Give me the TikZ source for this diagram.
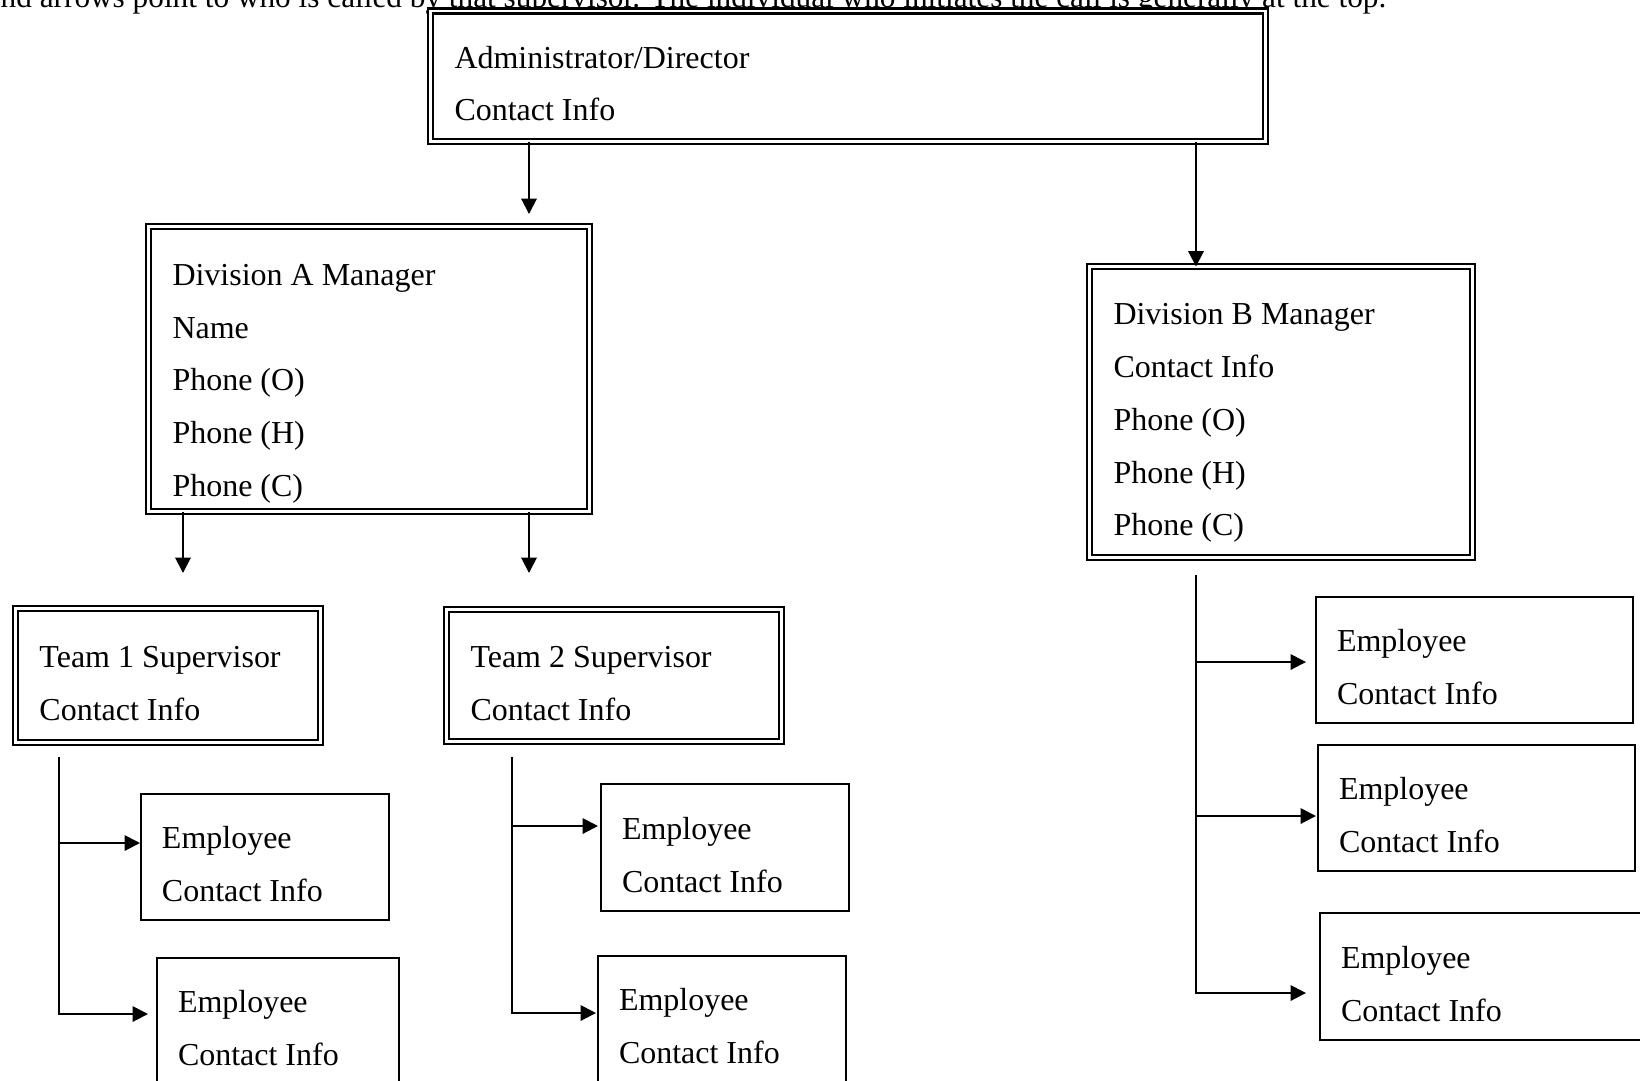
\documentclass[tikz,border=0pt]{standalone}
\usepackage{fontspec}
\setmainfont{Liberation Serif}
\usetikzlibrary{positioning,arrows.meta}
\newcommand{\boxstrut}{\rule[-2.3pt]{0pt}{15.02pt}}

\begin{document}
\begin{tikzpicture}[x=0.1mm,y=-0.1mm]
          \tikzstyle{every node}=[font=\fontsize{9.1}{15.02}\selectfont]
          \tikzstyle{card}=[draw, line width=0.57pt, anchor=north west, align=flush left,
                 outer sep=0pt, inner ysep=0pt,
                 execute at begin node=\boxstrut, execute at end node=\boxstrut]
          \tikzstyle{dcard}=[card, line width=0.75pt, double, double distance=0.75pt, inner xsep=2.4mm]
          \tikzstyle{ecard}=[card, inner xsep=2.1mm]
          \tikzstyle{arr}=[line width=0.57pt, -{Triangle[length=4.4pt,width=4.4pt]}]

      \useasboundingbox (0,0) rectangle (1640,1080);
      \clip (0,0) rectangle (1640,1080);

      \node[anchor=base west, inner sep=0pt, font=\fontsize{8.9}{15}\selectfont] (note) at (0,7)
         {nd arrows point to who is called by that supervisor. The individual who initiates the call is generally at the top.};

      \node[dcard, text width=78.7mm, minimum height=13.05mm] (admin) at (430.5,11)
         {Administrator/Director\\Contact Info};
      \node[dcard, text width=39.3mm, minimum height=28.5mm,
            execute at begin node=\rule{0pt}{14.7pt}] (divA) at (148.5,226.5)
         {Division A Manager\\Name\\Phone (O)\\Phone (H)\\Phone (C)};
      \node[dcard, text width=33.5mm, minimum height=29.1mm] (divB) at (1089.5,266.5)
         {Division B Manager\\Contact Info\\Phone (O)\\Phone (H)\\Phone (C)};
      \node[dcard, text width=25.7mm, minimum height=13.4mm] (team1) at (15.5,608.5)
         {Team 1 Supervisor\\Contact Info};
      \node[dcard, text width=28.7mm, minimum height=13.2mm] (team2) at (446.5,609.5)
         {Team 2 Supervisor\\Contact Info};

      \node[ecard, text width=20.6mm, minimum height=12.6mm] (emp1) at (141,794) {Employee\\Contact Info};
      \node[ecard, text width=20.0mm, minimum height=12.6mm] (emp2) at (157,958) {Employee\\Contact Info};
      \node[ecard, text width=20.6mm, minimum height=12.7mm] (emp3) at (601,784) {Employee\\Contact Info};
      \node[ecard, text width=20.6mm, minimum height=12.6mm] (emp4) at (598,956) {Employee\\Contact Info};
      \node[ecard, text width=27.5mm, minimum height=12.6mm] (emp5) at (1316,597) {Employee\\Contact Info};
      \node[ecard, text width=27.5mm, minimum height=12.6mm] (emp6) at (1318,745) {Employee\\Contact Info};
      \node[ecard, text width=28.8mm, minimum height=12.7mm] (emp7) at (1320,913) {Employee\\Contact Info};

      \coordinate (tipA) at (529,214);
      \coordinate (tipB) at (1196,0);
      \coordinate (tip1) at (183,573);
      \coordinate (tip2) at (529,573);

      \draw[arr] (admin.south -| tipA) -- (tipA);
      \draw[arr] (admin.south -| tipB) -- (divB.north -| tipB);
      \draw[arr] (divA.south -| tip1) -- (tip1);
      \draw[arr] (divA.south -| tip2) -- (tip2);

      \coordinate (top1) at (59,757);
      \coordinate (e1) at (140,843);
      \coordinate (e2) at (148,1014);
      \draw[arr] (top1) -- (top1 |- e2) -- (e2);
      \draw[arr] (top1 |- e1) -- (e1);

      \coordinate (top2) at (512,757);
      \coordinate (e3) at (598,826);
      \coordinate (e4) at (596,1013);
      \draw[arr] (top2) -- (top2 |- e4) -- (e4);
      \draw[arr] (top2 |- e3) -- (e3);

      \coordinate (topB) at (1196,575);
      \coordinate (e5) at (1306,662);
      \coordinate (e6) at (1316,816);
      \coordinate (e7) at (1306,993);
      \draw[arr] (topB) -- (topB |- e7) -- (e7);
      \draw[arr] (topB |- e5) -- (e5);
      \draw[arr] (topB |- e6) -- (e6);

\end{tikzpicture}
\end{document}
